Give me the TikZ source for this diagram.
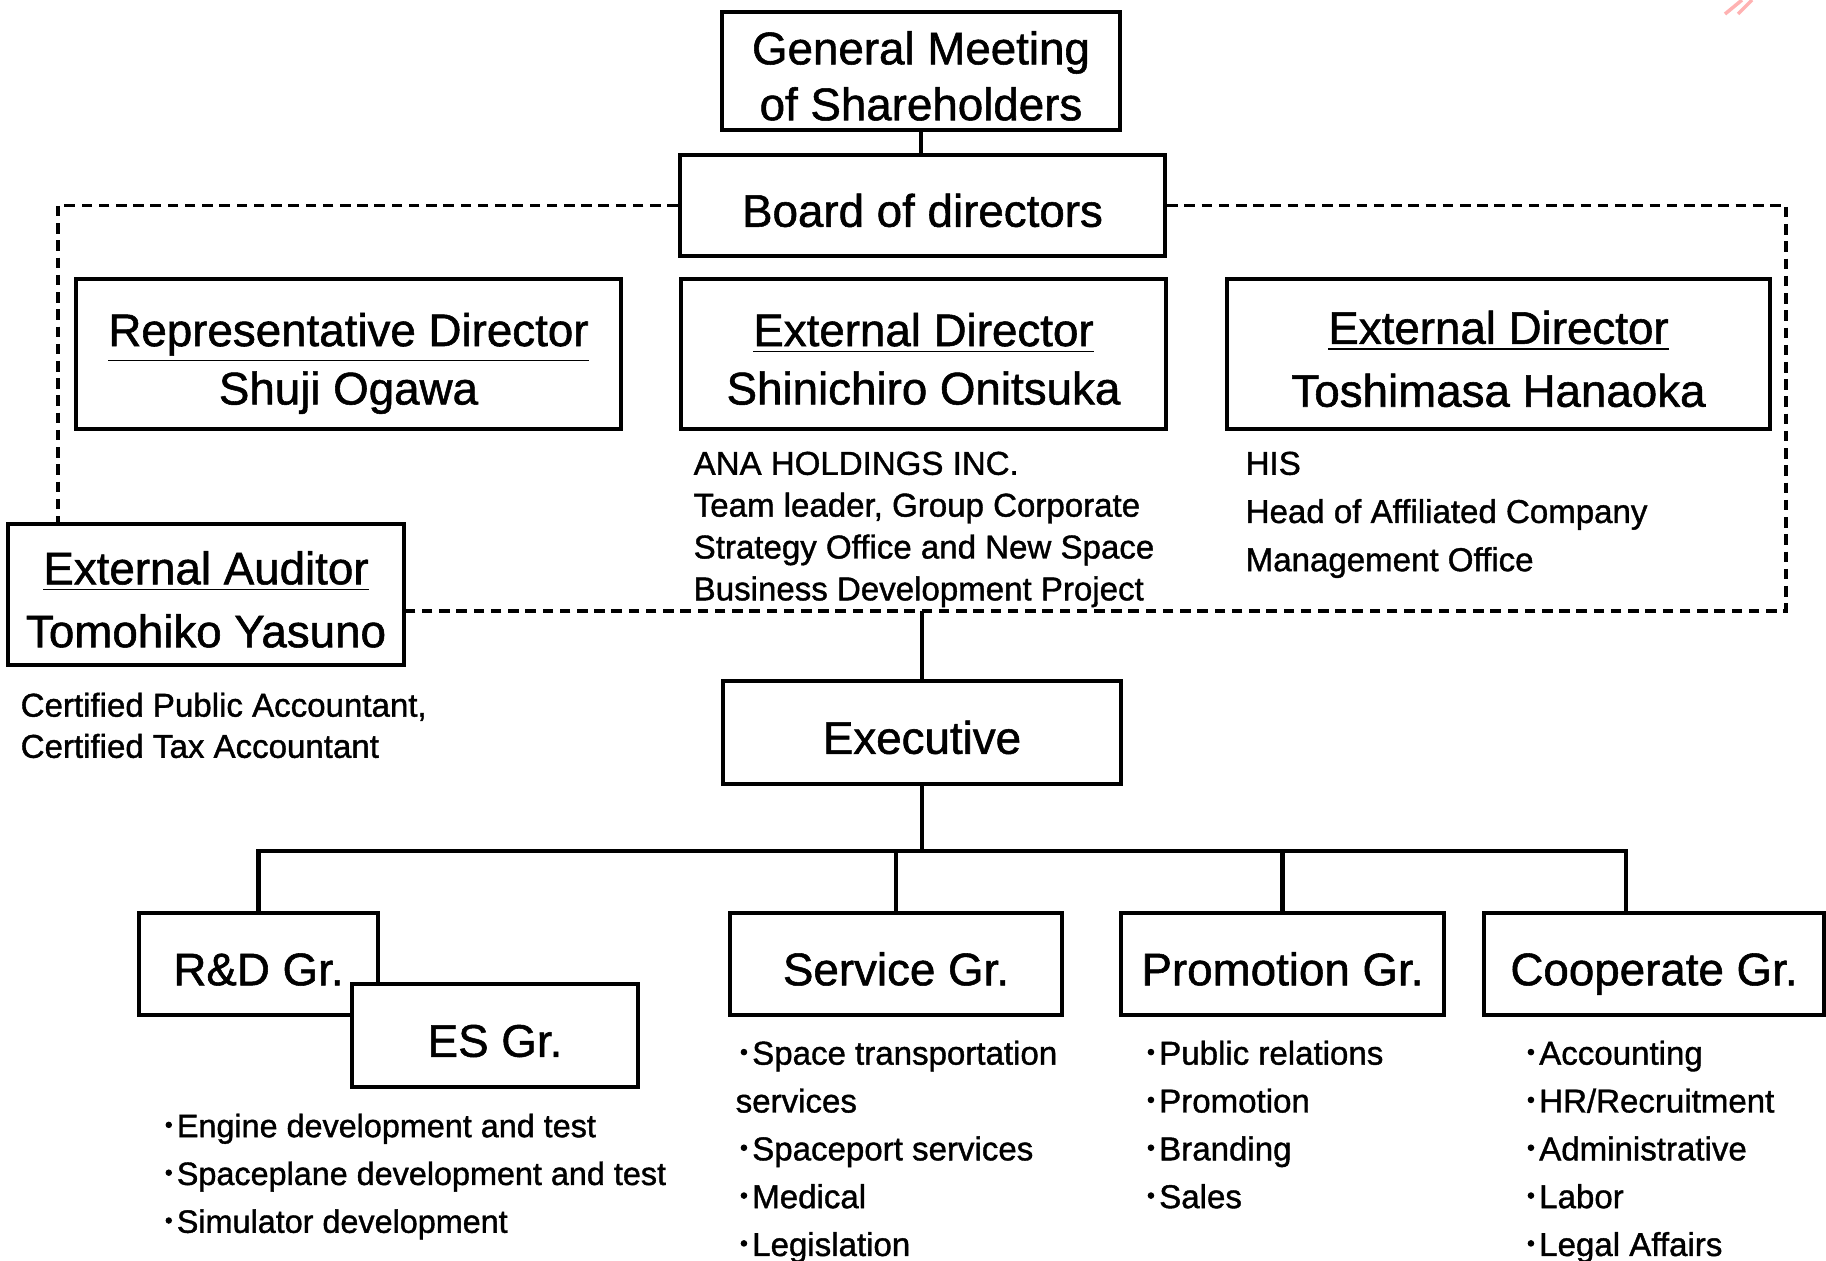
\documentclass[tikz,border=0pt]{standalone}
\usepackage{fontspec}
\setmainfont{Liberation Sans}[FakeBold=1.2]
\newfontfamily\cjk{Noto Sans CJK JP}[FakeBold=3]
\newcommand{\itemdot}{{\cjk ･}}

\tikzset{
    orgbox/.style = {draw, line width = 1.1pt, fill = white, inner sep = 0pt, align = center,
        font = \fontsize{13}{16.6}\selectfont, text height = 14.8pt, text depth = 2.7pt},
    twoline/.style = {text height = 14.8pt + #1, font = \fontsize{13}{#1}\selectfont},
    link/.style = {line width = 1.3pt},
    frame/.style = {line width = 1pt, dash pattern = on 3pt off 1.9pt},
    note/.style = {anchor = north west, inner sep = 0pt, align = left},
}

\begin{document}
\begin{tikzpicture}[x = 0.01cm, y = -0.01cm]
                \useasboundingbox (0, 0) rectangle (1826, 1261);
                % board level
                \node [orgbox, twoline = 15.9pt, minimum width = 3.98cm, minimum height = 1.18cm] (gm) at (921, 71) {General Meeting\\of Shareholders};
                \node [orgbox, minimum width = 4.85cm, minimum height = 1.01cm] (board) at (922.5, 205.5) {Board of directors};
                \node [orgbox, twoline = 16.6pt, minimum width = 5.45cm, minimum height = 1.50cm] (rep) at (348.5, 354) {\underline{Representative Director}\\Shuji Ogawa};
                \node [orgbox, twoline = 16.6pt, minimum width = 4.85cm, minimum height = 1.50cm] (onitsuka) at (923.5, 354) {\underline{External Director}\\Shinichiro Onitsuka};
                \node [orgbox, twoline = 17.9pt, minimum width = 5.43cm, minimum height = 1.50cm] (hanaoka) at (1498.5, 354) {\underline{External Director}\\Toshimasa Hanaoka};
                \node [orgbox, twoline = 17.9pt, minimum width = 3.96cm, minimum height = 1.41cm] (auditor) at (206, 594.5) {\underline{External Auditor}\\Tomohiko Yasuno};
                \node [note, font = \fontsize{9.4}{11.9}\selectfont] (onitsukanote) at (693, 451) {ANA HOLDINGS INC.\\Team leader, Group Corporate\\Strategy Office and New Space\\Business Development Project};
                \node [note, font = \fontsize{9.4}{13.7}\selectfont] (hanaokanote) at (1245, 451) {HIS\\Head of Affiliated Company\\Management Office};
                \node [note, font = \fontsize{9.4}{11.7}\selectfont] (auditornote) at (20, 692) {Certified Public Accountant,\\Certified Tax Accountant};
                \coordinate (fl) at (58, 611);
                \coordinate (fr) at (1786, 611);
                \draw [link] (gm.south) -- (gm.south |- board.north);
                \draw [frame] (board.west) -| (fl |- auditor.north);
                \draw [frame] (board.east) -| (fr) -- (fr -| auditor.east);
                % executive and groups
                \node [orgbox, minimum width = 3.98cm, minimum height = 1.03cm] (exec) at (922, 732.5) {Executive};
                \node [orgbox, minimum width = 2.39cm, minimum height = 1.02cm] (rd) at (258.5, 964) {R\&D Gr.};
                \node [orgbox, minimum width = 2.86cm, minimum height = 1.03cm] (es) at (495, 1035.5) {ES Gr.};
                \node [orgbox, minimum width = 3.32cm, minimum height = 1.02cm] (svc) at (896, 964) {Service Gr.};
                \node [orgbox, minimum width = 3.23cm, minimum height = 1.02cm] (promo) at (1282.5, 964) {Promotion Gr.};
                \node [orgbox, minimum width = 3.40cm, minimum height = 1.02cm] (coop) at (1654, 964) {Cooperate Gr.};
                \draw [link] (exec.north |- fr) -- (exec.north);
                \draw [link] (exec.south) -- ++(0, 65) coordinate (bus);
                \draw [link] (rd.north) |- (bus) -| ([xshift = -0.28cm]coop.north);
                \draw [link] (svc.north) -- (svc.north |- bus);
                \draw [link] (promo.north) -- (promo.north |- bus);
                \node [note, font = \fontsize{9.2}{13.6}\selectfont] (rdlist) at (160, 1113) {\itemdot Engine development and test\\\itemdot Spaceplane development and test\\\itemdot Simulator development};
                \node [note, font = \fontsize{9.4}{13.6}\selectfont] (svclist) at (735, 1040) {\itemdot Space transportation\\services\\\itemdot Spaceport services\\\itemdot Medical\\\itemdot Legislation};
                \node [note, font = \fontsize{9.4}{13.6}\selectfont] (promolist) at (1142, 1040) {\itemdot Public relations\\\itemdot Promotion\\\itemdot Branding\\\itemdot Sales};
                \node [note, font = \fontsize{9.4}{13.6}\selectfont] (cooplist) at (1522, 1040) {\itemdot Accounting\\\itemdot HR/Recruitment\\\itemdot Administrative\\\itemdot Labor\\\itemdot Legal Affairs};
                % stray strokes at the top edge
                \draw [red!60, opacity = 0.5, line width = 1pt] (1725, 14) -- (1742, 0);
                \draw [red!60, opacity = 0.5, line width = 1pt] (1738, 14) -- (1752, 0);
\end{tikzpicture}
\end{document}
